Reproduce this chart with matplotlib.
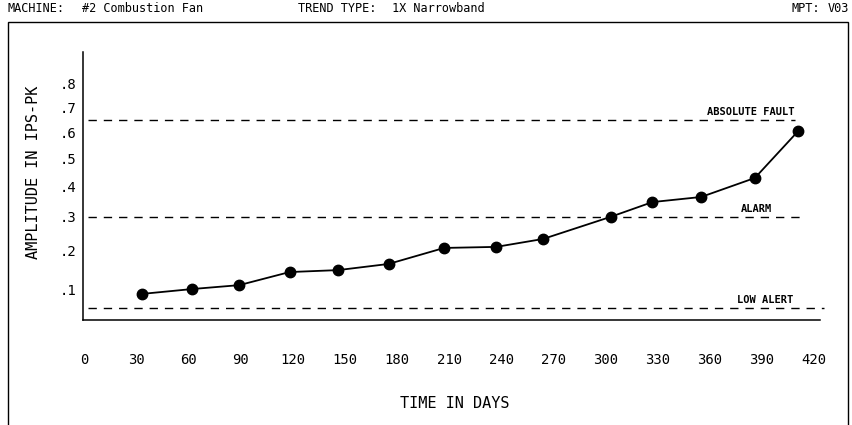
import numpy as np
import matplotlib
matplotlib.use("Agg")
from matplotlib import pyplot as plt
from matplotlib.patches import Rectangle

# trend data
days = [33, 62, 89, 118, 146, 175, 207, 237, 264, 303, 327, 355, 386, 411]
amplitude = [0.089, 0.100, 0.109, 0.141, 0.146, 0.162, 0.206, 0.209, 0.232,
             0.300, 0.348, 0.365, 0.431, 0.607]

x_ticks = [0, 30, 60, 90, 120, 150, 180, 210, 240, 270, 300, 330, 360, 390, 420]
y_ticks = [0.1, 0.2, 0.3, 0.4, 0.5, 0.6, 0.7, 0.8]
y_tick_labels = [".1", ".2", ".3", ".4", ".5", ".6", ".7", ".8"]

# alarm levels
level_names = ["ABSOLUTE FAULT", "ALARM", "LOW ALERT"]
level_values = [0.65, 0.30, 0.06]

W, H = 852, 425
# plotter output has an even, monospaced look
plt.rcParams['font.family'] = ['DejaVu Sans Mono']

fig = plt.figure(figsize=(W / 100, H / 100), dpi=100)

# outer frame (bottom edge sits off the page)
fig.patches.append(Rectangle((8 / W, -0.02), 840 / W, 1.02 - 22 / H, transform=fig.transFigure,
                             fill=False, edgecolor='black', linewidth=1.0))

hy = 1 - 9 / H
fig.text(8 / W, hy, "MACHINE:", ha='left', va='center', fontsize=8.6)
fig.text(82 / W, hy, "#2 Combustion Fan", ha='left', va='center', fontsize=8.6)
fig.text(298 / W, hy, "TREND TYPE:", ha='left', va='center', fontsize=8.6)
fig.text(392 / W, hy, "1X Narrowband", ha='left', va='center', fontsize=8.6)
fig.text(792 / W, hy, "MPT:", ha='left', va='center', fontsize=8.6)
fig.text(849 / W, hy, "V03", ha='right', va='center', fontsize=8.6)

ax = fig.add_axes([83 / W, (H - 320) / H, (820 - 83) / W, (320 - 52) / H])

# the plotter's amplitude axis is stretched at the low end
p = 0.7
ax.set_yscale('function', functions=(lambda v: np.sign(v) * np.abs(v) ** p,
                                     lambda u: np.sign(u) * np.abs(u) ** (1 / p)))
ax.set_ylim(0.0375, 0.94)
ax.set_xlim(-1, 423.5)

for s in ['top', 'right']:
    ax.spines[s].set_visible(False)
for s in ['left', 'bottom']:
    ax.spines[s].set_linewidth(1.1)

ax.set_xticks(x_ticks)
ax.set_xticklabels([str(t) for t in x_ticks])
ax.set_yticks(y_ticks)
ax.set_yticklabels(y_tick_labels)
ax.yaxis.set_minor_locator(matplotlib.ticker.NullLocator())
ax.tick_params(axis='x', length=0, pad=24, labelsize=10)
ax.tick_params(axis='y', length=0, pad=5, labelsize=10)

ax.plot(days, amplitude, color='black', linewidth=1.3, marker='o', markersize=7.5, zorder=3)

# dashed alarm levels with their names
ends = [409, 412, 426]
name_x = [409, 387, 392]
for name, val, xe, xn in zip(level_names, level_values, ends, name_x):
    ax.hlines(val, 1.7, xe, colors='black', linewidth=1.0, linestyles=(0, (6, 5)), clip_on=False)
    ax.annotate(name, (xn, val), xytext=(0, 2), textcoords='offset points',
                ha='right' if name == "ABSOLUTE FAULT" else 'center', va='bottom',
                fontsize=7.5, fontweight='bold')

fig.text(34 / W, 1 - 172 / H, "AMPLITUDE IN IPS-PK", rotation=90, ha='center', va='center', fontsize=11)
fig.text(455 / W, 1 - 404 / H, "TIME IN DAYS", ha='center', va='center', fontsize=11)

fig.savefig('out.png', dpi=100)
